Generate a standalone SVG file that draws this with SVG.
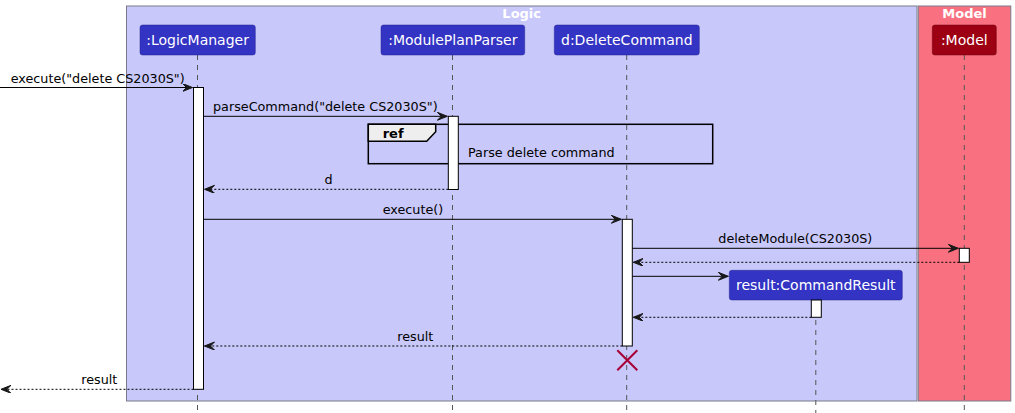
<svg xmlns="http://www.w3.org/2000/svg" width="1015" height="413" viewBox="0 0 1015 413">
<defs>
<style>
text{font-family:"DejaVu Sans",Verdana,sans-serif}
.msg{font-size:12.75px;fill:#000}
.plab{font-size:14px;fill:#FFFFFF}
.btitle{font-size:13px;font-weight:bold;fill:#FFFFFF}
.life{stroke:#555555;stroke-width:1;stroke-dasharray:5,5}
.act{fill:#FFFFFF;stroke:#000;stroke-width:1}
.line{stroke:#000;stroke-width:1;fill:none}
.ret{stroke:#000;stroke-width:1;fill:none;stroke-dasharray:2,2}
.lp{fill:#3333C4;stroke:#24248F;stroke-width:0.5}
.mp{fill:#9D0012;stroke:#6A000C;stroke-width:0.5}
</style>
<marker id="ah" markerUnits="userSpaceOnUse" markerWidth="12" markerHeight="10" refX="10" refY="4" orient="auto" viewBox="0 0 12 10">
<path d="M0,0 L10,4 L0,8 L4,4 Z" fill="#181818" stroke="#181818" stroke-width="1" stroke-linejoin="miter"/>
</marker>
</defs>
<rect width="1015" height="413" fill="#FFFFFF"/>
<g id="box-logic">
<rect x="126.5" y="6" width="790.5" height="395" fill="#C8C8FA" stroke="#7A7A8A" stroke-width="1"/>
<text class="btitle" x="521.7" y="17.5" text-anchor="middle">Logic</text>
</g>
<g id="box-model">
<rect x="918.3" y="6" width="92.5" height="395" fill="#F97181" stroke="#7A7A8A" stroke-width="1"/>
<text class="btitle" x="964.5" y="17.5" text-anchor="middle">Model</text>
</g>
<g id="lifelines">
<line class="life" x1="197.5" y1="55" x2="197.5" y2="413"/>
<line class="life" x1="452.5" y1="55" x2="452.5" y2="413"/>
<line class="life" x1="626.7" y1="55" x2="626.7" y2="413"/>
<line class="life" x1="964.3" y1="55" x2="964.3" y2="413"/>
<line class="life" x1="815.8" y1="300" x2="815.8" y2="413"/>
</g>
<g id="node-logicmanager">
<rect class="lp" x="140" y="25" width="115.3" height="30" rx="2.5"/>
<text class="plab" x="197.6" y="45" text-anchor="middle">:LogicManager</text>
</g>
<g id="node-moduleplanparser">
<rect class="lp" x="381" y="25" width="143.7" height="30" rx="2.5"/>
<text class="plab" x="452.8" y="45" text-anchor="middle">:ModulePlanParser</text>
</g>
<g id="node-deletecommand">
<rect class="lp" x="554.3" y="25" width="145" height="30" rx="2.5"/>
<text class="plab" x="626.8" y="45" text-anchor="middle">d:DeleteCommand</text>
</g>
<g id="node-model">
<rect class="mp" x="932.3" y="25" width="64" height="30" rx="2.5"/>
<text class="plab" x="964.3" y="45" text-anchor="middle">:Model</text>
</g>
<g id="node-commandresult">
<rect class="lp" x="729.3" y="270.3" width="173" height="29.7" rx="2.5"/>
<text class="plab" x="815.8" y="290" text-anchor="middle">result:CommandResult</text>
</g>
<g id="ref-frame">
<rect x="368.3" y="124.3" width="344.4" height="39.4" fill="none" stroke="#000" stroke-width="1.5"/>
<path d="M368.3,124.3 L435.7,124.3 L435.7,131.7 L426.7,141.3 L368.3,141.3 Z" fill="#EEEEEE" stroke="#000" stroke-width="1.5"/>
<text x="382.7" y="138.3" style="font-size:13px;font-weight:bold;fill:#000">ref</text>
<text class="msg" x="468" y="157">Parse delete command</text>
</g>
<g id="activations">
<rect class="act" x="193.5" y="87.5" width="10" height="301.8"/>
<rect class="act" x="448.3" y="116.3" width="10" height="73.2"/>
<rect class="act" x="622.3" y="219.3" width="10" height="126.7"/>
<rect class="act" x="959.3" y="248.3" width="10" height="14"/>
<rect class="act" x="811.3" y="300" width="10" height="17.3"/>
</g>
<g id="connectors">
<line class="line" x1="0" y1="87.5" x2="192.5" y2="87.5" marker-end="url(#ah)"/>
<text class="msg" x="10.7" y="82.5">execute("delete CS2030S")</text>
<line class="line" x1="203.5" y1="116.3" x2="447.3" y2="116.3" marker-end="url(#ah)"/>
<text class="msg" x="213" y="111.3">parseCommand("delete CS2030S")</text>
<line class="ret" x1="448.3" y1="189.3" x2="204.5" y2="189.3" marker-end="url(#ah)"/>
<text class="msg" x="328.5" y="184.3" text-anchor="middle">d</text>
<line class="line" x1="203.5" y1="219.3" x2="621.3" y2="219.3" marker-end="url(#ah)"/>
<text class="msg" x="382.7" y="214.3">execute()</text>
<line class="line" x1="632.3" y1="248.3" x2="958.3" y2="248.3" marker-end="url(#ah)"/>
<text class="msg" x="718.3" y="243.3">deleteModule(CS2030S)</text>
<line class="ret" x1="959.3" y1="262.3" x2="633.3" y2="262.3" marker-end="url(#ah)"/>
<line class="line" x1="632.3" y1="276.3" x2="728.3" y2="276.3" marker-end="url(#ah)"/>
<line class="ret" x1="811.3" y1="317.3" x2="633.3" y2="317.3" marker-end="url(#ah)"/>
<line class="ret" x1="622.3" y1="346" x2="204.5" y2="346" marker-end="url(#ah)"/>
<text class="msg" x="397.3" y="341">result</text>
<line class="ret" x1="193.5" y1="389.3" x2="1" y2="389.3" marker-end="url(#ah)"/>
<text class="msg" x="81.3" y="384.3">result</text>
</g>
<g id="destroy">
<path d="M617.3,350.3 L637.3,370.3 M637.3,350.3 L617.3,370.3" stroke="#A80036" stroke-width="2" fill="none"/>
</g>
</svg>
